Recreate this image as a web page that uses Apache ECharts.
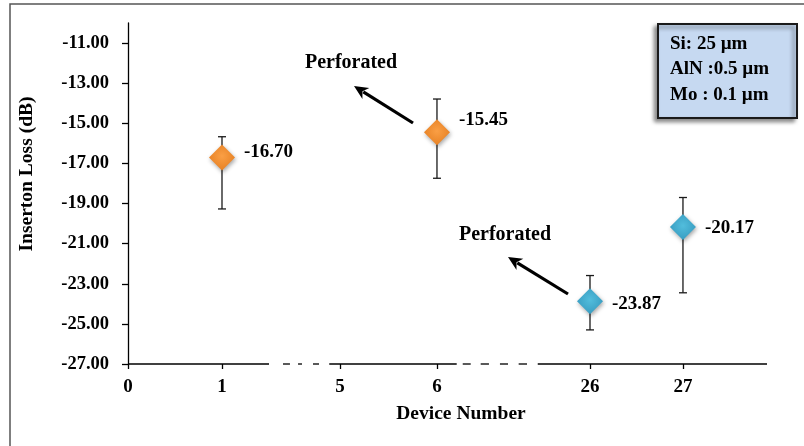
<!DOCTYPE html>
<html>
<head>
<meta charset="utf-8">
<script src="https://cdn.jsdelivr.net/npm/echarts@6/dist/echarts.min.js"></script>
<style>html,body{margin:0;padding:0;background:#fff;}#c{width:804px;height:446px;}</style>
</head>
<body>
<div id="c"></div>
<script>
// ---- data ----
const devices = ['1', '6', '26', '27'];
const insertionLoss = [-16.70, -15.45, -23.87, -20.17];
const errLow = [-19.27, -17.74, -25.30, -23.45];
const errHigh = [-15.67, -13.79, -22.59, -18.70];
const seriesOf = ['A', 'A', 'B', 'B'];
const xTickLabels = ['0', '1', '5', '6', '26', '27'];
const yTickValues = [-27, -25, -23, -21, -19, -17, -15, -13, -11];
const noteLines = ['Si: 25 \u00b5m', 'AlN :0.5 \u00b5m', 'Mo : 0.1 \u00b5m'];
const annotationText = 'Perforated';

// ---- layout (broken axis slots) ----
const xSlot = {'0': 0, '1': 1, '5': 2.255, '6': 3.287, '26': 4.915, '27': 5.904};
const xMax = 6.798;
const axisSegments = [
  [0, 1.5, 0], [1.649, 1.723, 1], [1.809, 1.851, 1], [1.968, 2.032, 1],
  [2.141, 3.497, 0], [3.561, 3.646, 1], [3.752, 3.840, 1], [3.957, 4.043, 1], [4.156, 4.245, 1],
  [4.359, xMax, 0]
];
const labelOffsets = [[0, -5], [0, -12], [0, 3], [0, 1]];
const FONT = "'Liberation Serif','Times New Roman',serif";
const TXT = '#000';

const slotToLabel = {};
Object.keys(xSlot).forEach(k => slotToLabel[xSlot[k].toFixed(3)] = k);

function diamondColor(c1, c2) {
  return {type: 'radial', x: 0.5, y: 0.45, r: 0.7,
    colorStops: [{offset: 0, color: c1}, {offset: 1, color: c2}]};
}
const styles = {
  A: diamondColor('#FA9F45', '#E27A1C'),
  B: diamondColor('#52BDDC', '#3294BA')
};

function pointsFor(group) {
  const out = [];
  devices.forEach((d, i) => {
    if (seriesOf[i] !== group) return;
    out.push({value: [xSlot[d], insertionLoss[i]], label: {offset: labelOffsets[i]}});
  });
  return out;
}

const errData = devices.map((d, i) => [xSlot[d], errLow[i], errHigh[i]]);

const chart = echarts.init(document.getElementById('c'));
chart.setOption({
  animation: false,
  grid: {left: 128, right: 37, top: 23, bottom: 82},
  xAxis: {
    type: 'value', min: 0, max: xMax,
    axisLine: {show: false},
    splitLine: {show: false},
    axisTick: {show: true, customValues: xTickLabels.map(k => xSlot[k]), length: 5, lineStyle: {color: '#000', width: 1.3}},
    axisLabel: {
      customValues: xTickLabels.map(k => xSlot[k]),
      formatter: v => slotToLabel[Number(v).toFixed(3)] || '',
      fontFamily: FONT, fontWeight: 'bold', fontSize: 19, color: TXT, margin: 14
    }
  },
  yAxis: {
    type: 'value', min: -27, max: -10,
    axisLine: {show: true, lineStyle: {color: '#000', width: 1.3}},
    splitLine: {show: false},
    axisTick: {show: true, customValues: yTickValues, length: 6, lineStyle: {color: '#000', width: 1.3}},
    axisLabel: {
      customValues: yTickValues,
      formatter: v => Number(v).toFixed(2),
      fontFamily: FONT, fontWeight: 'bold', fontSize: 18.5, color: TXT, margin: 19
    }
  },
  series: [
    {
      type: 'custom', name: 'axis', silent: true, z: 1,
      data: axisSegments,
      renderItem: (params, api) => {
        const a = api.coord([api.value(0), -27]);
        const b = api.coord([api.value(1), -27]);
        return {type: 'line', shape: {x1: a[0], y1: a[1], x2: b[0], y2: b[1]},
          style: {stroke: api.value(2) ? '#222' : '#000', lineWidth: 1.5}};
      }
    },
    {
      type: 'custom', name: 'error', silent: true, z: 2,
      data: errData,
      renderItem: (params, api) => {
        const lo = api.coord([api.value(0), api.value(1)]);
        const hi = api.coord([api.value(0), api.value(2)]);
        const w = 4;
        return {type: 'group', children: [
          {type: 'line', shape: {x1: lo[0], y1: lo[1], x2: hi[0], y2: hi[1]}, style: {stroke: '#1a1a1a', lineWidth: 1.3}},
          {type: 'line', shape: {x1: lo[0] - w, y1: lo[1], x2: lo[0] + w, y2: lo[1]}, style: {stroke: '#1a1a1a', lineWidth: 1.3}},
          {type: 'line', shape: {x1: hi[0] - w, y1: hi[1], x2: hi[0] + w, y2: hi[1]}, style: {stroke: '#1a1a1a', lineWidth: 1.3}}
        ]};
      }
    },
    ...['A', 'B'].map(g => ({
      type: 'scatter', name: g, z: 5,
      symbol: 'diamond', symbolSize: [26, 26],
      itemStyle: {color: styles[g], opacity: 1, shadowBlur: 4, shadowColor: 'rgba(0,0,0,0.35)', shadowOffsetX: 1, shadowOffsetY: 2},
      label: {
        show: true, position: 'right', distance: 9,
        formatter: p => p.value[1].toFixed(2),
        fontFamily: FONT, fontWeight: 'bold', fontSize: 19, color: TXT
      },
      data: pointsFor(g)
    }))
  ],
  graphic: [
    {type: 'polyline', silent: true, shape: {points: [[10, 446], [10, 4], [804, 4]]}, style: {stroke: '#555', lineWidth: 1.5, fill: null}},
    {type: 'text', x: 27, y: 174, rotation: Math.PI / 2,
      style: {text: 'Inserton Loss (dB)', font: 'bold 19.5px ' + FONT, fill: TXT, align: 'center', verticalAlign: 'middle'}},
    {type: 'text', x: 461, y: 414,
      style: {text: 'Device Number', font: 'bold 19.5px ' + FONT, fill: TXT, align: 'center', verticalAlign: 'middle'}},
    {type: 'rect', shape: {x: 658, y: 24, width: 139, height: 94},
      style: {fill: '#C6D9F1', stroke: '#1a1a1a', lineWidth: 2, shadowBlur: 4, shadowOffsetX: -3, shadowOffsetY: 3, shadowColor: 'rgba(0,0,0,0.45)'}},
    ...noteLines.map((t, i) => ({type: 'text', x: 670, y: 44 + i * 25.5,
      style: {text: t, font: 'bold 19px ' + FONT, fill: TXT, align: 'left', verticalAlign: 'middle'}})),
    {type: 'text', x: 351, y: 63, style: {text: annotationText, font: 'bold 20px ' + FONT, fill: TXT, align: 'center', verticalAlign: 'middle'}},
    {type: 'text', x: 505, y: 235, style: {text: annotationText, font: 'bold 20px ' + FONT, fill: TXT, align: 'center', verticalAlign: 'middle'}},
    ...[[[413, 123], [354, 86]], [[568, 294], [508, 257]]].map(([t, h]) => {
      const ang = Math.atan2(h[1] - t[1], h[0] - t[0]);
      const L = 14, W = 6.5;
      const bx = h[0] - L * Math.cos(ang), by = h[1] - L * Math.sin(ang);
      const nx = -Math.sin(ang), ny = Math.cos(ang);
      return {type: 'group', children: [
        {type: 'line', shape: {x1: t[0], y1: t[1], x2: bx + 3 * Math.cos(ang), y2: by + 3 * Math.sin(ang)}, style: {stroke: '#000', lineWidth: 3.2}},
        {type: 'polygon', shape: {points: [[h[0], h[1]], [bx + W * nx, by + W * ny], [bx + 4 * Math.cos(ang), by + 4 * Math.sin(ang)], [bx - W * nx, by - W * ny]]}, style: {fill: '#000'}}
      ]};
    })
  ]
});
</script>
</body>
</html>
